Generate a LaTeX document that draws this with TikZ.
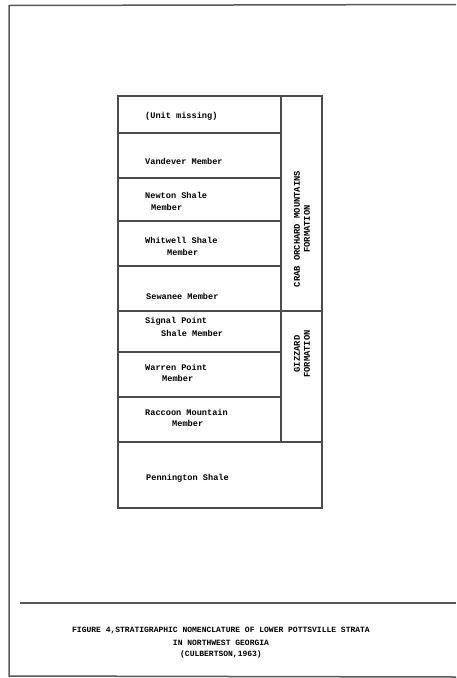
\documentclass[tikz,border=0pt]{standalone}
\usepackage{fontspec}
\setmonofont{Liberation Mono}
\begin{document}
\begin{tikzpicture}[x=1pt,y=-1pt,
  page/.style={draw=black!65, line width=1.5pt},
  grid/.style={draw=black!70, line width=1.1pt},
  lbl/.style={anchor=west, inner sep=0pt, text=black,
    font=\ttfamily\bfseries\fontsize{8.6}{10}\selectfont},
  vlbl/.style={inner sep=0pt, text=black, rotate=90,
    font=\ttfamily\bfseries\fontsize{8.8}{10}\selectfont},
  captext/.style={inner sep=0pt, text=black,
    font=\ttfamily\bfseries\fontsize{8.0}{9}\selectfont}]
\useasboundingbox (0,0) rectangle (456,678);
\fill[white] (0,0) rectangle (456,678);
% page frame
\draw[page] (456,4.5) -- (9,5.5) -- (9,676) -- (456,677);
\draw[page] (20,603) -- (456,603);
% table
\draw[grid] (118,96) rectangle (322,508);
\draw[grid] (281,96) -- (281,442);
\foreach \yy in {133,178,221,266,352,397}{\draw[grid] (118,\yy) -- (281,\yy);}
\draw[grid] (118,311) -- (322,311);
\draw[grid] (118,442) -- (322,442);
% cell labels
\node[lbl] (u1) at (145,116) {(Unit missing)};
\node[lbl] (u2) at (145,161) {Vandever Member};
\node[lbl] (u3a) at (145,195) {Newton Shale};
\node[lbl] (u3b) at (151,207) {Member};
\node[lbl] (u4a) at (145,240) {Whitwell Shale};
\node[lbl] (u4b) at (167,252) {Member};
\node[lbl] (u5) at (146,296) {Sewanee Member};
\node[lbl] (u6a) at (145,321) {Signal Point};
\node[lbl] (u6b) at (161,333) {Shale Member};
\node[lbl] (u7a) at (145,367) {Warren Point};
\node[lbl] (u7b) at (162,378) {Member};
\node[lbl] (u8a) at (145,412) {Raccoon Mountain};
\node[lbl] (u8b) at (172,423) {Member};
\node[lbl] (u9) at (146,478) {Pennington Shale};
% formation labels
\node[vlbl] (f1a) at (297,229) {CRAB ORCHARD MOUNTAINS};
\node[vlbl] (f1b) at (307,229) {FORMATION};
\node[vlbl] (f2a) at (297,354) {GIZZARD};
\node[vlbl] (f2b) at (307,354) {FORMATION};
% caption
\node[captext] (c1) at (221,631) {FIGURE 4,STRATIGRAPHIC NOMENCLATURE OF LOWER POTTSVILLE STRATA};
\node[captext] (c2) at (221,643) {IN NORTHWEST GEORGIA};
\node[captext] (c3) at (221,654) {(CULBERTSON,1963)};
\end{tikzpicture}
\end{document}
